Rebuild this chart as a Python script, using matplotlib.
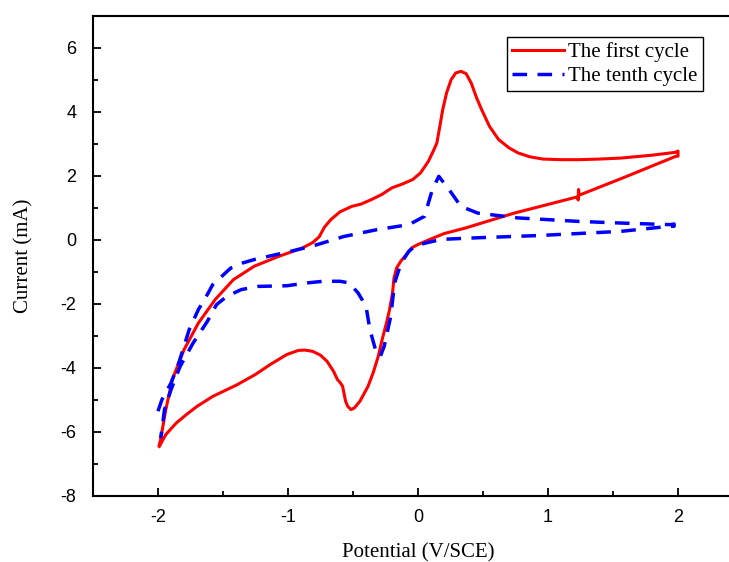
import numpy as np
import matplotlib.pyplot as plt
from matplotlib.ticker import MultipleLocator

# ---- data (potential in V/SCE, current in mA) ----
first_v = [-1.99, -1.98, -1.94, -1.89, -1.80, -1.69, -1.56, -1.42, -1.26, -1.07, -0.89,
           -0.81, -0.76, -0.72, -0.67, -0.60, -0.51, -0.44, -0.36, -0.28, -0.20, -0.12,
           -0.04, 0.02, 0.08, 0.12, 0.145, 0.17, 0.19, 0.22, 0.255, 0.29, 0.33, 0.37,
           0.41, 0.45, 0.49, 0.55, 0.62, 0.70, 0.77, 0.86, 0.96, 1.10, 1.24, 1.40, 1.56,
           1.80, 1.98, 2.00, 2.00, 1.98, 1.60, 1.24, 1.235, 1.232, 1.228, 0.74, 0.365,
           0.20, 0.08, -0.01, -0.05, -0.09, -0.13, -0.165, -0.185, -0.196, -0.22, -0.243,
           -0.275, -0.306, -0.345, -0.384, -0.447, -0.49, -0.516, -0.54, -0.557, -0.58,
           -0.60, -0.62, -0.65, -0.70, -0.75, -0.81, -0.87, -0.92, -1.01, -1.14, -1.25,
           -1.39, -1.58, -1.70, -1.78, -1.86, -1.94, -1.99]
first_i = [-6.40, -6.24, -5.30, -4.36, -3.43, -2.60, -1.86, -1.24, -0.82, -0.51, -0.25,
           -0.08, 0.10, 0.40, 0.64, 0.88, 1.05, 1.12, 1.26, 1.42, 1.63, 1.75,
           1.89, 2.10, 2.46, 2.80, 3.03, 3.60, 4.07, 4.60, 5.01, 5.22, 5.27, 5.20,
           4.90, 4.45, 4.07, 3.55, 3.14, 2.88, 2.72, 2.60, 2.53, 2.51, 2.51, 2.53, 2.56,
           2.65, 2.74, 2.78, 2.62, 2.61, 1.98, 1.40, 1.58, 1.25, 1.35, 0.84, 0.375,
           0.20, 0.00, -0.16, -0.25, -0.46, -0.65, -0.875, -1.20, -1.66, -2.20, -2.60,
           -3.10, -3.64, -4.15, -4.57, -5.04, -5.25, -5.30, -5.20, -5.04, -4.57,
           -4.45, -4.36, -4.10, -3.79, -3.60, -3.48, -3.44, -3.45, -3.58, -3.90, -4.20,
           -4.52, -4.89, -5.20, -5.45, -5.72, -6.08, -6.45]

tenth_v = [-2.00, -1.97, -1.90, -1.84, -1.76, -1.69, -1.62, -1.58, -1.50, -1.44, -1.35,
           -1.26, -1.04, -0.82, -0.57, -0.32, -0.07, 0.05, 0.11, 0.16, 0.24, 0.33, 0.46,
           0.77, 1.24, 1.56, 1.94, 1.97, 1.97, 1.94, 1.56, 0.93, 0.46, 0.18, -0.01,
           -0.07, -0.13, -0.18, -0.21, -0.26, -0.29, -0.32, -0.37, -0.40, -0.46, -0.53,
           -0.60, -0.73, -0.85, -1.01, -1.23, -1.36, -1.47, -1.55, -1.62, -1.73, -1.83,
           -1.90, -1.95, -1.97, -1.98]
tenth_i = [-5.35, -4.99, -4.47, -3.84, -2.80, -2.18, -1.70, -1.40, -1.10, -0.875, -0.72,
           -0.61, -0.41, -0.20, 0.11, 0.32, 0.48, 0.74, 1.57, 1.99, 1.57, 1.05, 0.84,
           0.69, 0.58, 0.53, 0.48, 0.50, 0.43, 0.43, 0.27, 0.14, 0.07, 0.02, -0.16,
           -0.35, -0.72, -1.34, -2.39, -3.32, -3.64, -3.53, -2.80, -2.07, -1.66, -1.34,
           -1.29, -1.29, -1.34, -1.43, -1.45, -1.55, -1.76, -2.02, -2.54, -3.22, -3.95,
           -4.68, -5.30, -5.93, -6.19]

serif = ['Liberation Serif', 'DejaVu Serif']
sans = ['Liberation Sans', 'DejaVu Sans']
plt.rcParams['axes.unicode_minus'] = False

fig = plt.figure(figsize=(7.29, 5.62), dpi=100)
ax = fig.add_axes([93 / 729, 66 / 562, 650 / 729, 480 / 562])

ax.plot(first_v, first_i, color='#ff0000', lw=2.2, label='The first cycle')
ax.plot(tenth_v, tenth_i, color='#0000ff', lw=2.5, linestyle=(0, (4.2, 3.0)),
        label='The tenth cycle')

ax.set_xlim(-2.5, 2.5)
ax.set_ylim(-8, 7)
ax.xaxis.set_major_locator(MultipleLocator(1))
ax.xaxis.set_minor_locator(MultipleLocator(0.5))
ax.yaxis.set_major_locator(MultipleLocator(2))
ax.yaxis.set_minor_locator(MultipleLocator(1))
ax.tick_params(which='both', direction='in', top=False, right=False, width=1.3)
ax.tick_params(which='major', length=6, labelsize=13)
ax.tick_params(axis='x', which='major', pad=9)
ax.tick_params(axis='y', which='major', pad=12)
ax.tick_params(which='minor', length=3.5)
for lab in ax.get_xticklabels() + ax.get_yticklabels():
    lab.set_family(sans)
for s in ax.spines.values():
    s.set_linewidth(1.5)

ax.set_xlabel('Potential (V/SCE)', family=serif, fontsize=15, labelpad=13)
ax.set_ylabel('Current (mA)', family=serif, fontsize=15, labelpad=19)

leg = ax.legend(loc='upper right', bbox_to_anchor=(703 / 729, 1 - 37 / 562),
                bbox_transform=fig.transFigure, borderaxespad=0,
                prop={'family': serif, 'size': 15}, fancybox=False,
                edgecolor='black', framealpha=1, handlelength=2.5,
                handletextpad=0.2, borderpad=0.25, labelspacing=0.2)
leg.get_frame().set_linewidth(1.0)

plt.savefig('out.png', dpi=100)
